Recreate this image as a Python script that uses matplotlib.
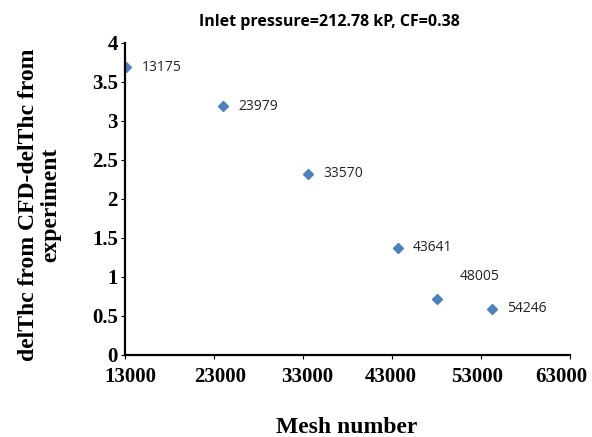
import matplotlib
matplotlib.use("Agg")
import matplotlib.pyplot as plt
from matplotlib.transforms import ScaledTranslation

# data
mesh = [13175, 23979, 33570, 43641, 48005, 54246]
delta = [3.69, 3.19, 2.32, 1.37, 0.72, 0.59]
labels = ["13175", "23979", "33570", "43641", "48005", "54246"]
xticks = [13000, 23000, 33000, 43000, 53000, 63000]
yticks = [0, 0.5, 1, 1.5, 2, 2.5, 3, 3.5, 4]
ytick_labels = ["0", "0.5", "1", "1.5", "2", "2.5", "3", "3.5", "4"]

serif = ["Liberation Serif", "DejaVu Serif"]

fig = plt.figure(figsize=(5.92, 4.37), dpi=100)
ax = fig.add_axes([0.211, 0.188, 0.752, 0.714])

ax.plot(mesh, delta, linestyle="none", marker="D", markersize=4.8,
        color="#4F81BD", markeredgecolor="#4F81BD")

for x, y, lab in zip(mesh, delta, labels):
    if lab == "48005":
        ax.annotate(lab, (x, y), xytext=(17, 16), textcoords="offset points",
                    ha="left", va="center", fontsize=10, family="Open Sans",
                    color="#222222")
    else:
        ax.annotate(lab, (x, y), xytext=(11, 0), textcoords="offset points",
                    ha="left", va="center", fontsize=10, family="Open Sans",
                    color="#222222")

ax.set_xlim(13000, 63000)
ax.set_ylim(0, 4)
ax.set_xticks(xticks)
ax.set_xticklabels([str(t) for t in xticks], fontsize=15, fontweight="bold",
                   family=serif)
ax.set_yticks(yticks)
ax.set_yticklabels(ytick_labels, fontsize=15, fontweight="bold", family=serif)

for s in ["top", "right"]:
    ax.spines[s].set_visible(False)
for s in ["left", "bottom"]:
    ax.spines[s].set_linewidth(1.6)
    ax.spines[s].set_color("black")
ax.tick_params(direction="out", length=3, width=0.8, colors="black")
ax.tick_params(axis="x", pad=6)
ax.tick_params(axis="y", pad=2)

# excel spreads the x labels a bit tighter than the ticks
# (done after tick_params, which resets the label transforms)
shifts = [5, 6, 4, -1, -4, -9]
for tick, dx in zip(ax.xaxis.get_major_ticks(), shifts):
    lbl = tick.label1
    lbl.set_transform(lbl.get_transform() +
                      ScaledTranslation(dx / 100, 0, fig.dpi_scale_trans))

fig.text(0.586, 0.022, "Mesh number", fontsize=17, fontweight="bold",
         family=serif, ha="center", va="center")
fig.text(0.067, 0.531, "delThc from CFD-delThc from\nexperiment", fontsize=17,
         fontweight="bold", family=serif, rotation=90, ha="center",
         va="center", multialignment="center", linespacing=1.05)
fig.text(0.557, 0.949, "Inlet pressure=212.78 kP, CF=0.38", fontsize=11.5,
         fontweight="bold", family="Open Sans", ha="center", va="center")

fig.savefig("out.png", dpi=100)
